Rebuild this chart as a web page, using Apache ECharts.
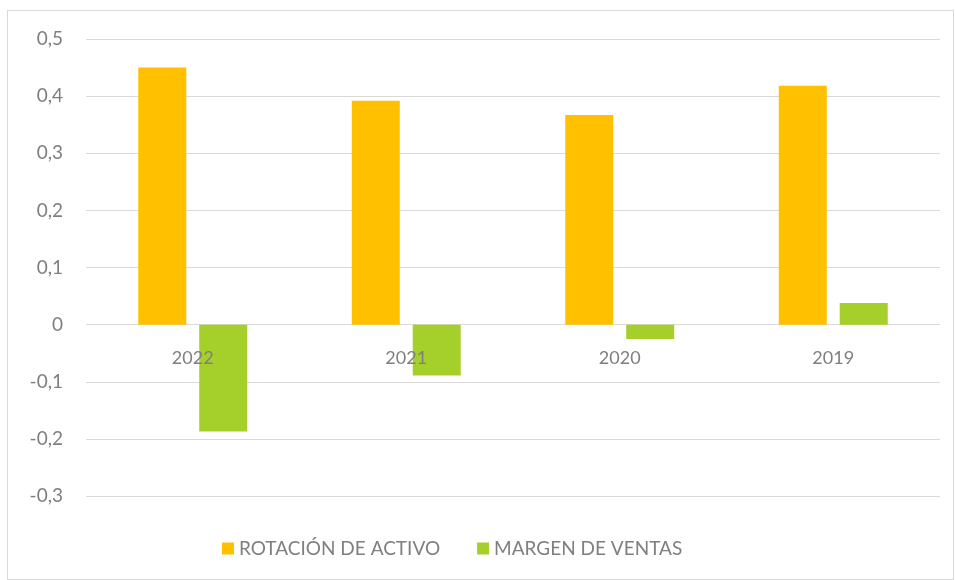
<!DOCTYPE html>
<html>
<head>
<meta charset="utf-8">
<script src="https://cdn.jsdelivr.net/npm/echarts@6/dist/echarts.min.js"></script>
<style>
  html, body { margin: 0; padding: 0; background: #fff; }
  #frame { position: absolute; left: 7px; top: 10px; width: 945px; height: 568px; border: 1px solid #d9d9d9; }
  #chart { position: absolute; left: 0; top: 0; width: 955px; height: 580px; }
</style>
</head>
<body>
<div id="frame"></div>
<div id="chart"></div>
<script>
  var years = ['2022', '2021', '2020', '2019'];
  var rotacion = [0.45, 0.392, 0.367, 0.418];
  var margen = [-0.187, -0.089, -0.025, 0.038];

  var myChart = echarts.init(document.getElementById('chart'));
  var option = {
    textStyle: { fontFamily: 'Lato' },
    color: ['#FFC000', '#A5CF2A'],
    grid: { left: 86, right: 15, top: 39, bottom: 84 },
    legend: {
      bottom: 17,
      left: 217,
      itemWidth: 12,
      itemHeight: 12,
      itemGap: 37,
      icon: 'rect',
      textStyle: { color: '#7f7f7f', fontSize: 19, fontFamily: 'Lato' },
      data: ['ROTACIÓN DE ACTIVO', 'MARGEN DE VENTAS']
    },
    xAxis: {
      type: 'category',
      data: years,
      position: 'bottom',
      offset: -171, // sits on the zero line
      z: 10,
      axisTick: { show: false },
      axisLine: { show: false },
      axisLabel: { color: '#7f7f7f', fontSize: 18, margin: 24 }
    },
    yAxis: {
      type: 'value',
      min: -0.3,
      max: 0.5,
      interval: 0.1,
      axisLine: { show: false },
      axisTick: { show: false },
      splitLine: { lineStyle: { color: '#d9d9d9', width: 1 } },
      axisLabel: {
        color: '#7f7f7f',
        fontSize: 19,
        margin: 23,
        formatter: function (v) {
          var r = Math.round(v * 10) / 10;
          return r === 0 ? '0' : r.toFixed(1).replace('.', ',');
        }
      }
    },
    series: [{
      name: 'ROTACIÓN DE ACTIVO',
      type: 'bar',
      data: rotacion,
      barWidth: 48,
      barGap: '27%'
    }, {
      name: 'MARGEN DE VENTAS',
      type: 'bar',
      data: margen,
      barWidth: 48,
      barGap: '27%'
    }]
  };
  myChart.setOption(option);
</script>
</body>
</html>
